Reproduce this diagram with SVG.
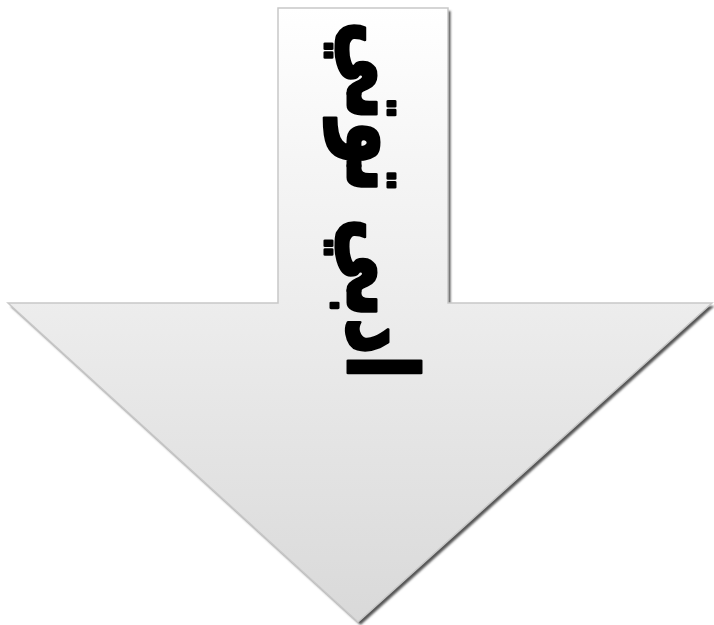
<svg xmlns="http://www.w3.org/2000/svg" width="714" height="625" viewBox="0 0 714 625">
<defs>
<linearGradient id="g" x1="0" y1="8" x2="0" y2="622" gradientUnits="userSpaceOnUse">
<stop offset="0" stop-color="#ffffff"/><stop offset="1" stop-color="#d9d9d9"/>
</linearGradient>
<filter id="sh" x="-5%" y="-5%" width="110%" height="110%"><feGaussianBlur stdDeviation="0.8"/></filter>
</defs>
<style>.lbl{font-family:"DejaVu Sans","Noto Sans",sans-serif;font-weight:bold;font-size:80px;fill:#000;stroke:#000;stroke-width:2.5;stroke-linejoin:round}</style>
<g id="arrow">
<polygon points="278,8 448,8 448,303 712,303 358,622 8,303 278,303" transform="translate(2.5,3)" fill="#555" filter="url(#sh)"/>
<polygon points="278,8 448,8 448,303 712,303 358,622 8,303 278,303" fill="url(#g)" stroke="#c8c8c8" stroke-width="1.5"/>
</g>
<g id="label">
<text class="lbl" direction="rtl" text-anchor="middle" transform="translate(348,200) rotate(90) scale(0.9,1.2)">ادبي توتي</text>
</g>
</svg>
